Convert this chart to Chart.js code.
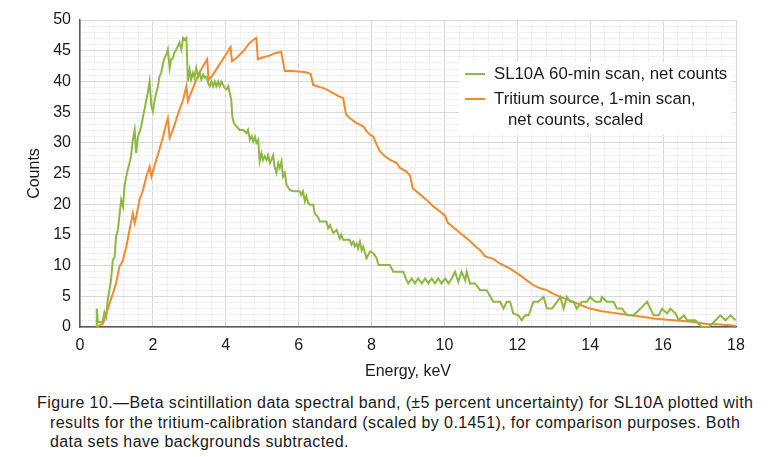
<!DOCTYPE html>
<html>
<head>
<meta charset="utf-8">
<script src="https://cdn.jsdelivr.net/npm/chart.js@4"></script>
<style>
  body { margin: 0; background: #fff; }
  #wrap { position: relative; width: 768px; height: 457px; }
  #caption {
    position: absolute; left: 37px; top: 393px; width: 731px;
    font: 16px "Liberation Sans", Arial, sans-serif; line-height: 19.6px; color: #1a1a1a;
    letter-spacing: 0.4px; white-space: nowrap;
  }
  #caption .cont { padding-left: 13px; }
</style>
</head>
<body>
<div id="wrap">
  <canvas id="spectrum" width="768" height="385"></canvas>
  <div id="caption">
    <div>Figure 10.—Beta scintillation data spectral band, (±5 percent uncertainty) for SL10A plotted with</div>
    <div class="cont">results for the tritium-calibration standard (scaled by 0.1451), for comparison purposes. Both</div>
    <div class="cont">data sets have backgrounds subtracted.</div>
  </div>
</div>
<script>
// SL10A 60-min scan, net counts
const greenKeV = [
  0.46, 0.46, 0.49, 0.62, 0.67, 0.72, 0.76, 0.85, 0.90, 0.95, 0.99, 1.04, 1.08, 1.13, 1.18, 1.22,
  1.27, 1.31, 1.36, 1.40, 1.45, 1.50, 1.54, 1.59, 1.63, 1.68, 1.73, 1.77, 1.82, 1.86, 1.91, 1.96,
  2.00, 2.05, 2.09, 2.14, 2.18, 2.23, 2.28, 2.32, 2.37, 2.41, 2.46, 2.50, 2.55, 2.59, 2.64, 2.69,
  2.73, 2.78, 2.83, 2.87, 2.92, 2.96, 3.01, 3.05, 3.10, 3.14, 3.19, 3.24, 3.28, 3.33, 3.38, 3.42,
  3.47, 3.52, 3.56, 3.61, 3.65, 3.70, 3.74, 3.79, 3.83, 3.88, 3.93, 3.97, 4.02, 4.07, 4.11, 4.15,
  4.18, 4.22, 4.29, 4.38, 4.48, 4.57, 4.61, 4.66, 4.71, 4.75, 4.80, 4.84, 4.89, 4.93, 4.98, 5.02,
  5.07, 5.12, 5.16, 5.21, 5.25, 5.30, 5.34, 5.39, 5.44, 5.48, 5.53, 5.57, 5.62, 5.67, 5.76, 5.85,
  6.03, 6.07, 6.12, 6.17, 6.21, 6.26, 6.31, 6.40, 6.44, 6.53, 6.58, 6.76, 6.81, 6.86, 6.95, 7.04,
  7.13, 7.17, 7.22, 7.40, 7.45, 7.50, 7.54, 7.59, 7.63, 7.68, 7.73, 7.77, 7.86, 7.96, 8.05, 8.14,
  8.19, 8.50, 8.60, 8.87, 8.96, 9.01, 9.10, 9.19, 9.28, 9.38, 9.47, 9.56, 9.65, 9.74, 9.83, 9.92,
  10.02, 10.11, 10.20, 10.29, 10.38, 10.47, 10.57, 10.61, 10.70, 10.84, 10.98, 11.16, 11.34, 11.53, 11.62, 11.71,
  11.80, 11.89, 12.03, 12.12, 12.21, 12.31, 12.44, 12.58, 12.72, 12.81, 12.95, 13.09, 13.18, 13.27, 13.36, 13.45,
  13.54, 13.63, 13.77, 13.91, 14.00, 14.14, 14.28, 14.32, 14.46, 14.64, 14.73, 14.87, 15.01, 15.19, 15.38, 15.56,
  15.65, 15.74, 15.88, 15.97, 16.11, 16.20, 16.34, 16.43, 16.57, 16.66, 16.80, 16.89, 16.98, 17.07, 17.25, 17.34,
  17.44, 17.57, 17.71, 17.85, 17.99
];
const greenCounts = [
  0, 3.0, 0.8, 0.8, 2.4, 1.6, 4.4, 7.6, 10.9, 11.4, 14.7, 15.8, 18.0, 20.7, 19.6, 22.9,
  24.5, 25.6, 26.7, 27.8, 30.5, 32.1, 28.3, 31.0, 31.6, 32.7, 34.3, 35.4, 37.0, 38.1, 40.0, 35.9,
  35.1, 37.0, 38.1, 39.2, 40.8, 41.4, 43.0, 43.8, 44.4, 45.2, 42.2, 43.6, 43.8, 44.7, 45.2, 45.8,
  46.3, 45.2, 47.1, 46.8, 47.1, 40.0, 41.9, 40.3, 41.4, 40.6, 42.2, 40.8, 41.4, 40.3, 41.1, 40.6,
  40.8, 39.7, 39.2, 40.0, 39.2, 40.0, 39.2, 40.0, 39.2, 40.0, 39.4, 38.9, 38.7, 39.2, 38.1, 37.0,
  34.3, 33.2, 32.7, 32.1, 32.1, 31.6, 32.1, 30.5, 31.1, 30.2, 31.0, 30.0, 30.5, 27.0, 28.3, 27.2,
  27.8, 27.2, 28.0, 26.7, 27.2, 28.0, 26.1, 25.1, 26.7, 25.9, 27.0, 24.5, 25.1, 23.1, 22.3, 22.1,
  22.1, 21.5, 22.1, 20.5, 21.3, 20.2, 19.9, 19.9, 18.5, 17.9, 17.2, 17.2, 16.1, 16.6, 15.3, 15.8,
  14.4, 15.0, 14.2, 14.2, 13.4, 13.9, 13.1, 13.6, 12.8, 13.9, 12.5, 13.1, 11.2, 12.3, 12.0, 11.2,
  10.1, 10.1, 9.0, 9.0, 7.6, 7.1, 7.9, 7.1, 7.9, 7.1, 7.9, 7.1, 7.9, 7.1, 7.9, 7.1,
  7.9, 7.1, 7.9, 9.0, 7.35, 9.0, 7.6, 9.0, 7.1, 7.1, 6.0, 6.0, 4.1, 4.1, 3.0, 4.1,
  4.1, 2.2, 1.9, 1.1, 1.9, 1.9, 4.1, 4.1, 4.9, 3.0, 3.0, 4.1, 4.9, 3.0, 4.9, 4.1,
  4.1, 3.0, 4.1, 4.1, 4.9, 4.1, 4.1, 4.9, 4.1, 4.1, 3.0, 3.0, 1.9, 1.9, 3.0, 4.1,
  3.0, 1.9, 1.9, 3.0, 2.2, 3.0, 2.2, 1.1, 1.9, 1.1, 1.1, 1.1, 0.5, 0, 0, 0.5,
  1.1, 1.9, 1.1, 1.9, 1.1
];

// Tritium source, 1-min scan, net counts, scaled
const orangeKeV = [
  0.46, 0.54, 0.63, 0.72, 0.81, 0.90, 0.99, 1.08, 1.13, 1.18, 1.27, 1.36, 1.45, 1.50, 1.54, 1.63,
  1.73, 1.82, 1.91, 1.96, 2.00, 2.09, 2.18, 2.28, 2.37, 2.41, 2.46, 2.55, 2.64, 2.73, 2.83, 2.92,
  2.96, 3.01, 3.10, 3.19, 3.28, 3.38, 3.49, 3.53, 3.65, 3.83, 4.02, 4.13, 4.17, 4.29, 4.48, 4.66,
  4.84, 4.88, 5.00, 5.20, 5.35, 5.52, 5.62, 5.80, 6.00, 6.20, 6.33, 6.40, 6.58, 6.76, 6.95, 7.09,
  7.22, 7.30, 7.41, 7.59, 7.77, 7.86, 7.96, 8.05, 8.14, 8.23, 8.37, 8.51, 8.69, 8.78, 8.96, 9.06,
  9.13, 9.33, 9.51, 9.70, 9.88, 10.02, 10.09, 10.25, 10.43, 10.66, 10.85, 10.98, 11.12, 11.34, 11.53, 11.80,
  12.08, 12.26, 12.44, 12.63, 12.81, 12.99, 13.18, 13.36, 13.54, 13.77, 14.00, 14.28, 14.64, 15.01, 15.38, 15.74,
  16.11, 16.48, 16.84, 17.21, 17.57, 17.99
];
const orangeCounts = [
  0, 0.3, 0.5, 2.2, 3.8, 5.4, 7.1, 9.8, 10.3, 10.9, 13.1, 15.8, 18.5, 16.9, 17.9, 20.7,
  22.3, 24.5, 26.1, 24.5, 25.3, 27.2, 28.9, 31.0, 33.2, 34.0, 30.8, 32.1, 33.8, 35.4, 37.0, 39.2,
  36.8, 37.6, 38.9, 40.3, 41.4, 42.5, 43.6, 40.2, 41.1, 42.8, 44.5, 45.6, 43.3, 43.8, 44.9, 46.3,
  47.1, 43.6, 43.9, 44.2, 44.6, 44.8, 41.7, 41.7, 41.6, 41.5, 41.2, 39.4, 39.1, 38.7, 38.1, 37.6,
  37.3, 34.6, 34.0, 33.2, 32.7, 31.9, 31.3, 31.0, 29.7, 28.6, 27.8, 27.2, 26.7, 25.9, 25.3, 24.6,
  22.6, 21.6, 20.7, 19.6, 18.8, 18.1, 17.0, 16.2, 15.3, 14.2, 13.1, 12.5, 11.5, 11.1, 10.3, 9.5,
  8.4, 7.6, 6.8, 6.3, 6.0, 5.4, 4.9, 4.5, 4.1, 3.5, 3.0, 2.6, 2.3, 2.0, 1.7, 1.4,
  1.2, 1.0, 0.8, 0.5, 0.4, 0.2
];

const xMax = 18, xMajor = 2, xMinor = 0.4;
const yMax = 50, yMajor = 5, yMinor = 1;

const toPoints = (xs, ys) => xs.map((x, i) => ({x: x, y: ys[i]}));
const isMajor = (v, step) => Math.abs(v / step - Math.round(v / step)) < 1e-6;
const FONT = '"Liberation Sans", Arial, sans-serif';

// legend drawn by hand so the second entry can wrap onto an indented line
const legendBox = {
  id: 'legendBox',
  afterDatasetsDraw(chart) {
    const {ctx} = chart;
    ctx.save();
    ctx.fillStyle = '#fff';
    ctx.fillRect(459, 62, 272, 72);
    ctx.font = '16.8px ' + FONT;
    ctx.textBaseline = 'middle';
    let y = 74;
    chart.data.datasets.forEach(ds => {
      ctx.strokeStyle = ds.borderColor;
      ctx.lineWidth = 2;
      ctx.beginPath();
      ctx.moveTo(465, y);
      ctx.lineTo(485, y);
      ctx.stroke();
      ctx.fillStyle = '#1a1a1a';
      [].concat(ds.label).forEach((t, i) => ctx.fillText(t, i ? 508 : 494, y + i * 21));
      y += 25;
    });
    ctx.restore();
  }
};

new Chart(document.getElementById('spectrum'), {
  type: 'scatter',
  data: {
    datasets: [{
      label: 'SL10A 60-min scan, net counts',
      data: toPoints(greenKeV, greenCounts),
      borderColor: '#8db843',
      borderWidth: 2,
      showLine: true,
      pointRadius: 0,
      tension: 0
    }, {
      label: ['Tritium source, 1-min scan,', 'net counts, scaled'],
      data: toPoints(orangeKeV, orangeCounts),
      borderColor: '#f28a2e',
      borderWidth: 2,
      showLine: true,
      pointRadius: 0,
      tension: 0
    }]
  },
  options: {
    responsive: false,
    animation: false,
    layout: { padding: { top: 20, right: 32, left: 0, bottom: 0 } },
    plugins: {
      legend: { display: false },
      tooltip: { enabled: false }
    },
    scales: {
      x: {
        type: 'linear',
        min: 0, max: xMax,
        afterFit: s => { s.height = 58; },
        border: { color: '#595959', width: 1.5 },
        grid: {
          drawTicks: false,
          color: c => isMajor(c.tick.value, xMajor) ? '#d9d9d9' : '#f0f0f0'
        },
        ticks: {
          stepSize: xMinor,
          autoSkip: false,
          maxRotation: 0,
          padding: 9,
          color: '#1a1a1a',
          font: { size: 16, family: FONT },
          callback: v => isMajor(v, xMajor) ? Math.round(v) : ''
        },
        title: {
          display: true,
          text: 'Energy, keV',
          color: '#1a1a1a',
          font: { size: 16, family: FONT },
          padding: { top: 4, bottom: 4 }
        }
      },
      y: {
        min: 0, max: yMax,
        afterFit: s => { s.width = 80; },
        border: { color: '#595959', width: 1.5 },
        grid: {
          drawTicks: false,
          color: c => isMajor(c.tick.value, yMajor) ? '#d9d9d9' : '#f0f0f0'
        },
        ticks: {
          stepSize: yMinor,
          autoSkip: false,
          padding: 9,
          color: '#1a1a1a',
          font: { size: 16, family: FONT },
          callback: v => isMajor(v, yMajor) ? Math.round(v) : ''
        },
        title: {
          display: true,
          text: 'Counts',
          color: '#1a1a1a',
          font: { size: 16, family: FONT },
          padding: { top: 25, bottom: 0 }
        }
      }
    }
  },
  plugins: [legendBox]
});
</script>
</body>
</html>
